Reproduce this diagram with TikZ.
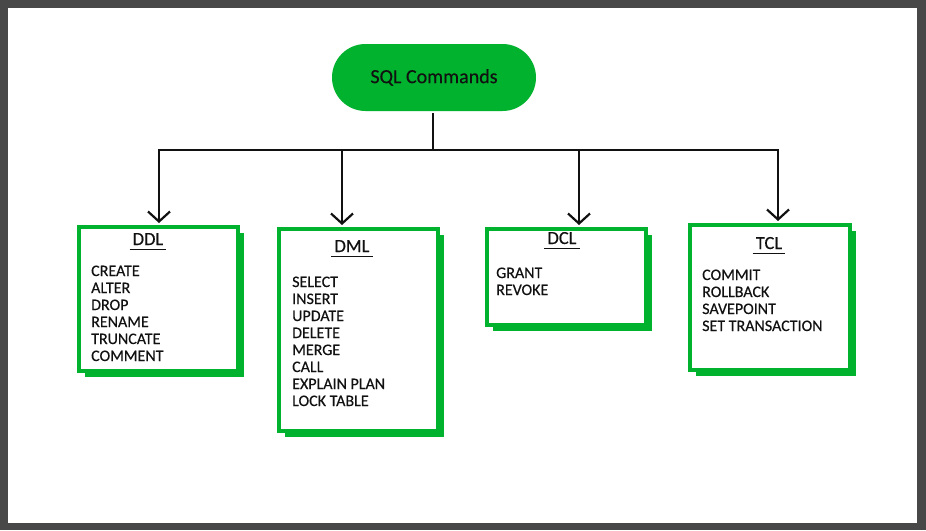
\documentclass[tikz,border=0pt]{standalone}
\usepackage{fontspec}
\setmainfont{Carlito}[FakeBold=0.35]
\usetikzlibrary{arrows.meta,shadows,calc}
\definecolor{gfg}{RGB}{0,178,45}
\definecolor{bgray}{RGB}{72,72,72}
\definecolor{ink}{RGB}{17,17,17}
\begin{document}
\begin{tikzpicture}[x=1pt,y=-1pt,
  conn/.style={line width=2.2pt,draw=ink},
  arr/.style={conn,-{Straight Barb[length=10pt,width=22pt]},shorten >=2pt},
  cmdbox/.style={draw=gfg,line width=4pt,fill=white,inner sep=0pt,
    drop shadow={shadow xshift=6pt,shadow yshift=-6pt,fill=gfg,opacity=1}},
  ttl/.style={font=\fontsize{18.5}{20}\selectfont,text=ink,anchor=base,inner sep=0pt},
  itm/.style={font=\fontsize{16}{17}\selectfont,text=ink,anchor=base west,inner sep=0pt},
  uline/.style={line width=1.8pt,draw=ink}]
\useasboundingbox (0,0) rectangle (926,530);
\fill[bgray] (0,0) rectangle (926,530);
\fill[white] (8,8) rectangle (917,523);

% root
\node[fill=gfg,minimum width=204pt,minimum height=67pt,rounded corners=33.5pt,
      font=\fontsize{20}{22}\selectfont,text=ink,inner sep=0pt] (root) at (434,77.5) {SQL Commands};

% boxes
\node[cmdbox,minimum width=159pt,minimum height=144pt] (ddl) at (158.5,299) {};
\node[cmdbox,minimum width=159pt,minimum height=202pt] (dml) at (358.5,330) {};
\node[cmdbox,minimum width=159pt,minimum height=96pt] (dcl) at (566.5,277) {};
\node[cmdbox,minimum width=160pt,minimum height=145pt] (tcl) at (770,297.5) {};

% connectors
\coordinate (hub) at (433,150);
\coordinate (bDDL) at (159,150);
\coordinate (bDML) at (342,150);
\coordinate (bDCL) at (579,150);
\coordinate (bTCL) at (778,150);
\draw[conn] (root.south) ++(-1,2) -- (hub);
\draw[conn,line cap=rect] (bDDL) -- (bTCL);
\draw[arr] (bDDL) -- (bDDL |- ddl.north);
\draw[arr] (bDML) -- (bDML |- dml.north);
\draw[arr] (bDCL) -- (bDCL |- dcl.north);
\draw[arr] (bTCL) -- (bTCL |- tcl.north);

% titles
\node[ttl] (tddl) at (148,245) {DDL};
\node[ttl] (tdml) at (352,252) {DML};
\node[ttl] (tdcl) at (562,244) {DCL};
\node[ttl] (ttcl) at (769,249) {TCL};
\foreach \n in {tddl,tdml,tdcl,ttcl}
  \draw[uline] ($(\n.base west)+(-3,4.5)$) -- ($(\n.base east)+(3,4.5)$);

% items
\foreach \t [count=\i from 0] in {CREATE,ALTER,DROP,RENAME,TRUNCATE,COMMENT}
  \node[itm] (iddl\i) at (91,276+17*\i) {\t};
\foreach \t [count=\i from 0] in {SELECT,INSERT,UPDATE,DELETE,MERGE,CALL,EXPLAIN PLAN,LOCK TABLE}
  \node[itm] (idml\i) at (292,287+17*\i) {\t};
\foreach \t [count=\i from 0] in {GRANT,REVOKE}
  \node[itm] (idcl\i) at (496,278+17*\i) {\t};
\foreach \t [count=\i from 0] in {COMMIT,ROLLBACK,SAVEPOINT,SET TRANSACTION}
  \node[itm] (itcl\i) at (702,280+17*\i) {\t};
\end{tikzpicture}
\end{document}
